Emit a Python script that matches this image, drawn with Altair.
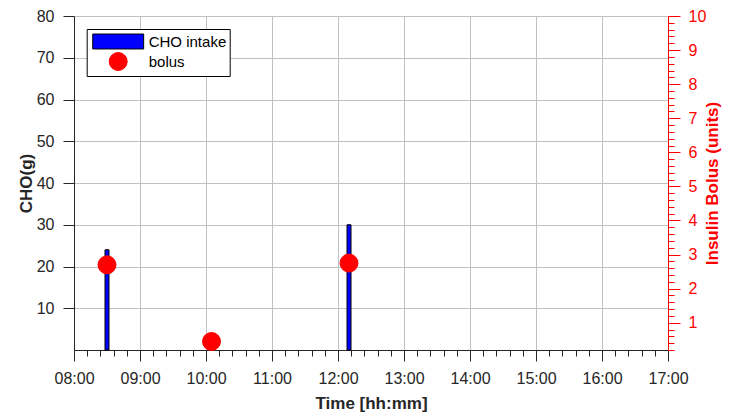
import altair as alt
import pandas as pd

# ---- data ----
cho_times = ["08:30", "12:10"]
cho_grams = [24, 30]
bolus_times = ["08:30", "10:05", "12:10"]
bolus_units = [2.7, 0.45, 2.75]
series_names = ["CHO intake", "bolus"]
left_ticks = [10, 20, 30, 40, 50, 60, 70, 80]

DAY = "2020-01-01T"


def stamp(t):
    return DAY + t + ":00"


cho_df = pd.DataFrame({"time": [stamp(t) for t in cho_times], "cho": cho_grams})
bolus_df = pd.DataFrame({"time": [stamp(t) for t in bolus_times],
                         "bolus": bolus_units, "series": "bolus"})


def dt(h, m=0):
    return alt.DateTime(year=2020, month=1, date=1, hours=h, minutes=m)


FONT = "Liberation Sans"
DARK = "#262626"
GRID = "#c0c0c0"
RED = "#ff0000"
BLUE = "#0000ff"

# axis tick positions: every 12 minutes (major on the hour), every 0.2 units on the right
x_tick_values = [dt(8 + (k * 12) // 60, (k * 12) % 60) for k in range(46)]
right_tick_values = [round(0.2 * k, 1) for k in range(1, 51)]

IS_HOUR = "minutes(datum.value) === 0"
IS_UNIT = "abs(datum.value - round(datum.value)) < 0.01"

x_scale = alt.Scale(domain=[dt(8), dt(17)], padding=0)
left_scale = alt.Scale(domain=[0, 80], nice=False, padding=0)
right_scale = alt.Scale(domain=[0.2, 10], nice=False, zero=False, padding=0)

x_axis = alt.Axis(
    orient="bottom", values=x_tick_values, title="Time [hh:mm]",
    labelExpr=f"{IS_HOUR} ? timeFormat(datum.value, '%H:%M') : ''",
    grid=True, gridColor=GRID,
    gridOpacity={"condition": {"test": IS_HOUR, "value": 1}, "value": 0},
    tickSize={"condition": {"test": IS_HOUR, "value": 11}, "value": 6},
    tickColor=DARK, domainColor=DARK,
    labelFont=FONT, labelFontSize=16, labelColor=DARK, labelPadding=9,
    labelFlush=False, labelOverlap=False, labelBound=False,
    titleFont=FONT, titleFontSize=17, titleFontWeight="bold", titleColor=DARK,
    titlePadding=9,
)
left_axis = alt.Axis(
    orient="left", values=left_ticks, title="CHO(g)", grid=True, gridColor=GRID,
    tickSize=11, tickColor=DARK, domainColor=DARK,
    labelFont=FONT, labelFontSize=16, labelColor=DARK, labelPadding=9,
    titleFont=FONT, titleFontSize=17, titleFontWeight="bold", titleColor=DARK,
    titlePadding=1,
)
right_axis = alt.Axis(
    orient="right", values=right_tick_values, title="Insulin Bolus (units)", titleAngle=270,
    labelExpr=f"{IS_UNIT} ? format(datum.value, 'd') : ''",
    grid=False,
    tickSize={"condition": {"test": IS_UNIT, "value": 12}, "value": 6},
    tickColor=RED, domainColor=RED,
    labelFont=FONT, labelFontSize=16, labelColor=RED, labelPadding=8,
    labelFlush=False, labelOverlap=False,
    titleFont=FONT, titleFontSize=17, titleFontWeight="bold", titleColor=RED,
    titlePadding=16,
)

legend = alt.Legend(
    title=None, orient="none", legendX=12.7, legendY=13,
    fillColor="white", strokeColor="black", padding=3,
    symbolSize=324, symbolOffset=19, labelOffset=21, rowPadding=-1,
    labelFont=FONT, labelFontSize=15, labelColor="black",
    symbolStrokeWidth=1, symbolOpacity=1,
)
rect_path = "M-2.83,-0.83H2.83V0.83H-2.83Z"

bars = alt.Chart(cho_df).mark_bar(size=4, color=BLUE, stroke="black", strokeWidth=1).encode(
    x=alt.X("time:T", scale=x_scale, axis=x_axis),
    y=alt.Y("cho:Q", scale=left_scale, axis=left_axis),
)

points = alt.Chart(bolus_df).mark_point(filled=True, size=324, opacity=1, strokeWidth=1).encode(
    x=alt.X("time:T", scale=x_scale, axis=None),
    y=alt.Y("bolus:Q", scale=right_scale, axis=right_axis),
    color=alt.Color("series:N", scale=alt.Scale(domain=series_names, range=[BLUE, RED]), legend=legend),
    stroke=alt.Stroke("series:N", scale=alt.Scale(domain=series_names, range=["black", RED]), legend=legend),
    shape=alt.Shape("series:N", scale=alt.Scale(domain=series_names, range=[rect_path, "circle"]), legend=legend),
)

chart = alt.layer(bars, points).resolve_scale(
    y="independent"
).resolve_axis(
    x="independent", y="independent"
).properties(
    width=594, height=334,
    autosize=alt.AutoSizeParams(type="none"),
    padding={"left": 66, "top": 8, "right": 56, "bottom": 64},
).configure_view(strokeWidth=0)

chart.save("out.html", embed_options={"renderer": "svg", "actions": False})
